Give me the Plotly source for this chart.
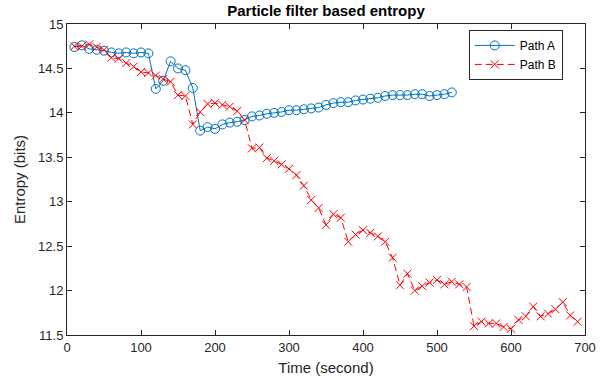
import plotly.graph_objects as go

# ---- data ----
time_a = list(range(10, 530, 10))
entropy_a = [14.74, 14.76, 14.72, 14.71, 14.70, 14.68, 14.67, 14.68, 14.67, 14.68,
             14.67, 14.27, 14.36, 14.58, 14.50, 14.48, 14.28, 13.80, 13.84, 13.82,
             13.87, 13.89, 13.90, 13.92, 13.96, 13.97, 13.99, 14.00, 14.01, 14.03,
             14.03, 14.04, 14.05, 14.06, 14.09, 14.11, 14.12, 14.12, 14.14, 14.15,
             14.16, 14.17, 14.19, 14.20, 14.20, 14.20, 14.21, 14.21, 14.19, 14.20,
             14.21, 14.23]

time_b = list(range(10, 700, 10))
entropy_b = [14.75, 14.75, 14.77, 14.74, 14.71, 14.62, 14.61, 14.56, 14.52, 14.46,
             14.45, 14.42, 14.38, 14.35, 14.20, 14.19, 13.87, 14.01, 14.10, 14.11,
             14.09, 14.07, 14.02, 13.92, 13.60, 13.61, 13.49, 13.46, 13.42, 13.37,
             13.30, 13.18, 13.02, 12.93, 12.74, 12.86, 12.82, 12.55, 12.63, 12.68,
             12.65, 12.61, 12.55, 12.37, 12.06, 12.19, 12.00, 12.05, 12.09, 12.12,
             12.07, 12.10, 12.07, 12.04, 11.60, 11.65, 11.63, 11.63, 11.59, 11.57,
             11.67, 11.71, 11.82, 11.71, 11.74, 11.79, 11.87, 11.72, 11.65]

x_ticks = [0, 100, 200, 300, 400, 500, 600, 700]
y_ticks = [11.5, 12, 12.5, 13, 13.5, 14, 14.5, 15]
y_tick_text = ["11.5", "12", "12.5", "13", "13.5", "14", "14.5", "15"]

FONT = "Liberation Sans, Arial, Helvetica, sans-serif"
AX = "#262626"

fig = go.Figure()
fig.add_trace(go.Scatter(
    x=time_a, y=entropy_a, name="Path A", mode="lines+markers",
    line=dict(color="#0072BD", width=1),
    marker=dict(symbol="circle-open", size=9, color="#0072BD", line=dict(width=1)),
))
fig.add_trace(go.Scatter(
    x=time_b, y=entropy_b, name="Path B", mode="lines+markers",
    line=dict(color="#FF0000", width=1, dash="7px,4px"),
    marker=dict(symbol="x-thin-open", size=8, color="#FF0000", line=dict(width=1, color="#FF0000")),
))

fig.update_layout(
    width=611, height=385,
    margin=dict(l=67, r=26, t=24, b=47),
    paper_bgcolor="white", plot_bgcolor="white",
    font=dict(family=FONT, size=13, color=AX),
    title=dict(text="<b>Particle filter based entropy</b>", x=0.5, xref="paper",
               y=1 - 11 / 385, yref="container", yanchor="middle",
               font=dict(family=FONT, size=15, color="#000000")),
    legend=dict(x=0.957, y=0.981, xanchor="right", yanchor="top",
                bgcolor="white", bordercolor=AX, borderwidth=1,
                font=dict(family=FONT, size=12, color="#000000"),
                tracegroupgap=0, itemwidth=40),
    showlegend=True,
)
fig.update_xaxes(
    range=[0, 700], tickvals=x_ticks, ticks="inside", ticklen=5, tickcolor=AX,
    showline=True, linecolor=AX, linewidth=1, mirror="allticks",
    showgrid=False, zeroline=False,
    tickfont=dict(family=FONT, size=13, color=AX),
    title=dict(text="Time (second)", font=dict(family=FONT, size=15, color=AX), standoff=8),
)
fig.update_yaxes(
    range=[11.5, 15], tickvals=y_ticks, ticktext=y_tick_text, ticks="inside", ticklen=5,
    tickcolor=AX, showline=True, linecolor=AX, linewidth=1, mirror="allticks",
    showgrid=False, zeroline=False,
    tickfont=dict(family=FONT, size=13, color=AX),
    title=dict(text="Entropy (bits)", font=dict(family=FONT, size=15, color=AX), standoff=8),
)

fig.write_html("out.html")
